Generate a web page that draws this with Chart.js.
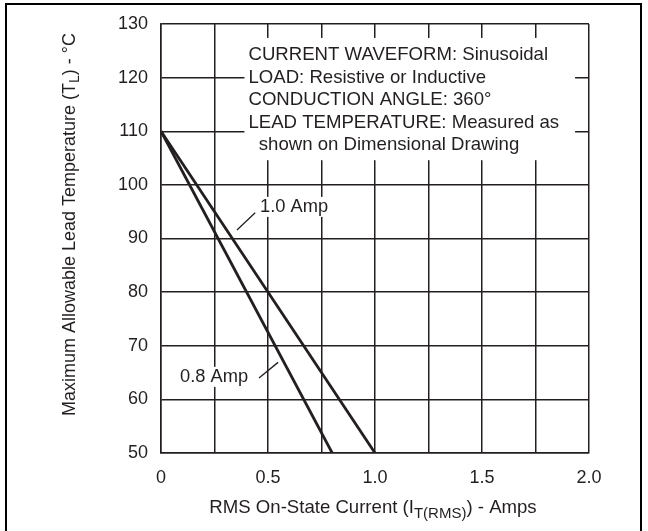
<!DOCTYPE html>
<html lang="en">
<head>
  <meta charset="UTF-8">
  <title>Maximum Allowable Lead Temperature vs RMS On-State Current</title>
  <script src="https://cdn.jsdelivr.net/npm/chart.js"></script>
  <style>
    html, body { margin: 0; padding: 0; background: #fff; }
    #wrap { position: relative; width: 648px; height: 531px; overflow: hidden; }
    #frame {
      position: absolute; left: 5px; top: 3px; width: 637px; height: 600px;
      border: 2px solid #000; border-bottom: none; box-sizing: border-box;
    }
    canvas { position: absolute; left: 0; top: 0; }
  </style>
</head>
<body>
  <div id="wrap">
    <div id="frame"></div>
    <canvas id="leadTempChart" width="648" height="531"></canvas>
  </div>

  <script>
    // derating curves: current (A) vs max lead temperature (°C)
    const current08 = [0, 0.8];
    const temp08 = [110, 50];
    const current10 = [0, 1.0];
    const temp10 = [110, 50];

    const xTicks = [0, 0.5, 1.0, 1.5, 2.0];
    const yTicks = [50, 60, 70, 80, 90, 100, 110, 120, 130];

    const noteLines = [
      'CURRENT WAVEFORM: Sinusoidal',
      'LOAD: Resistive or Inductive',
      'CONDUCTION ANGLE: 360°',
      'LEAD TEMPERATURE: Measured as',
      '  shown on Dimensional Drawing'
    ];

    const INK = '#231f20';
    const FONT = '"Liberation Sans", Arial, Helvetica, sans-serif';

    function toPoints(xs, ys) {
      return xs.map((x, i) => ({ x: x, y: ys[i] }));
    }

    // draws text with a subscript part: [main, sub, rest]
    function drawSubText(ctx, parts, cx, cy, size) {
      const big = size + 'px ' + FONT;
      const small = Math.round(size * 0.78) + 'px ' + FONT;
      ctx.font = big;
      const w1 = ctx.measureText(parts[0]).width;
      const w3 = ctx.measureText(parts[2]).width;
      ctx.font = small;
      const w2 = ctx.measureText(parts[1]).width;
      let x = cx - (w1 + w2 + w3) / 2;
      ctx.textAlign = 'left';
      ctx.textBaseline = 'middle';
      ctx.font = big;
      ctx.fillText(parts[0], x, cy);
      x += w1;
      ctx.font = small;
      ctx.fillText(parts[1], x, cy + size * 0.3);
      x += w2;
      ctx.font = big;
      ctx.fillText(parts[2], x, cy);
    }

    const annotations = {
      id: 'annotations',
      afterDatasetsDraw(chart) {
        const ctx = chart.ctx;
        const xs = chart.scales.x;
        const ys = chart.scales.y;
        ctx.save();

        // white note box over the grid
        const bx0 = xs.getPixelForValue(0.39);
        const bx1 = xs.getPixelForValue(1.935);
        const by0 = ys.getPixelForValue(127.4);
        const by1 = ys.getPixelForValue(104.6);
        ctx.fillStyle = '#fff';
        ctx.fillRect(bx0, by0, bx1 - bx0, by1 - by0);

        ctx.fillStyle = INK;
        ctx.font = '18.6px ' + FONT;
        ctx.textAlign = 'left';
        ctx.textBaseline = 'middle';
        noteLines.forEach((line, i) => {
          ctx.fillText(line, bx0 + 4, by0 + 17 + i * 22.5);
        });

        // curve labels with leader lines
        const labels = [
          { text: '1.0 Amp', x: 0.463, y: 95.9, lead: [[0.355, 91.6], [0.44, 94.8]] },
          { text: '0.8 Amp', x: 0.089, y: 64.2, lead: [[0.458, 64.0], [0.547, 66.9]] }
        ];
        labels.forEach(l => {
          ctx.fillStyle = '#fff';
          ctx.font = '18.3px ' + FONT;
          const w = ctx.measureText(l.text).width;
          const lx = xs.getPixelForValue(l.x);
          const ly = ys.getPixelForValue(l.y);
          ctx.fillRect(lx - 2, ly - 10, w + 4, 20);
          ctx.fillStyle = INK;
          ctx.fillText(l.text, lx, ly);
          ctx.strokeStyle = INK;
          ctx.lineWidth = 1.3;
          ctx.beginPath();
          ctx.moveTo(xs.getPixelForValue(l.lead[0][0]), ys.getPixelForValue(l.lead[0][1]));
          ctx.lineTo(xs.getPixelForValue(l.lead[1][0]), ys.getPixelForValue(l.lead[1][1]));
          ctx.stroke();
        });

        // axis titles with subscripts
        ctx.fillStyle = INK;
        const area = chart.chartArea;
        drawSubText(ctx, ['RMS On-State Current (I', 'T(RMS)', ') - Amps'],
          (area.left + area.right) / 2 - 2, 508, 18.6);

        ctx.translate(70, (area.top + area.bottom) / 2 - 14);
        ctx.rotate(-Math.PI / 2);
        drawSubText(ctx, ['Maximum Allowable Lead Temperature (T', 'L', ') - °C'], 0, 0, 18);
        ctx.restore();
      }
    };

    const lineStyle = {
      borderColor: INK,
      borderWidth: 2.8,
      pointRadius: 0,
      fill: false,
      tension: 0
    };

    new Chart(document.getElementById('leadTempChart'), {
      type: 'scatter',
      data: {
        datasets: [
          Object.assign({ label: '0.8 Amp', data: toPoints(current08, temp08), showLine: true }, lineStyle),
          Object.assign({ label: '1.0 Amp', data: toPoints(current10, temp10), showLine: true }, lineStyle)
        ]
      },
      options: {
        responsive: false,
        animation: false,
        layout: { padding: { left: 0, right: 59, top: 24, bottom: 0 } },
        plugins: {
          legend: { display: false },
          tooltip: { enabled: false }
        },
        scales: {
          x: {
            type: 'linear',
            min: 0,
            max: 2,
            afterFit(scale) { scale.height = 78; },
            ticks: {
              stepSize: 0.25,
              color: INK,
              font: { family: FONT, size: 18 },
              padding: 14,
              maxRotation: 0,
              autoSkip: false,
              callback(v) {
                const hit = xTicks.find(t => Math.abs(t - v) < 1e-6);
                if (hit === undefined) return '';
                return hit === 0 ? '0' : hit.toFixed(1);
              }
            },
            grid: { color: INK, lineWidth: 1.5, drawTicks: false },
            border: { color: INK, width: 1.5 }
          },
          y: {
            type: 'linear',
            min: yTicks[0],
            max: yTicks[yTicks.length - 1],
            afterFit(scale) { scale.width = 161; },
            ticks: {
              stepSize: 10,
              color: INK,
              font: { family: FONT, size: 18 },
              padding: 13
            },
            grid: { color: INK, lineWidth: 1.5, drawTicks: false },
            border: { color: INK, width: 1.5 }
          }
        }
      },
      plugins: [annotations]
    });
  </script>
</body>
</html>
